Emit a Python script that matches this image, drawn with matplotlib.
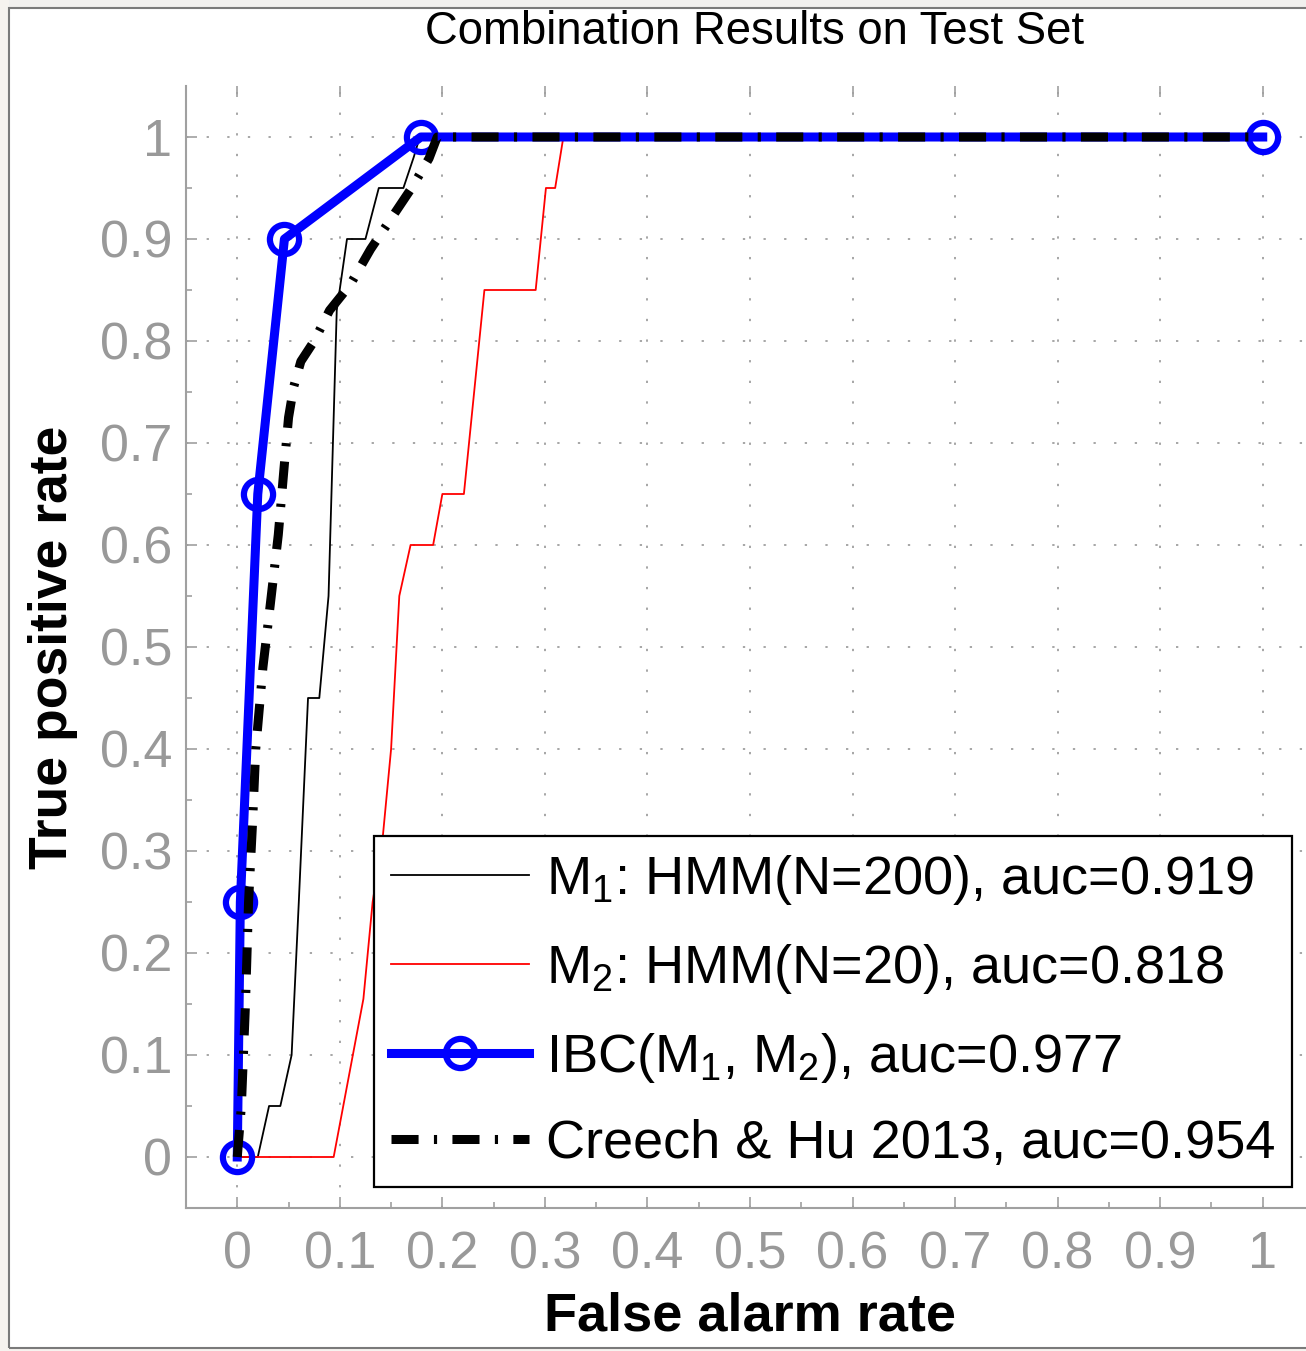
import matplotlib
matplotlib.use("Agg")
import matplotlib.pyplot as plt
from matplotlib.patches import Rectangle
from matplotlib.lines import Line2D

plt.rcParams['font.family'] = ['Liberation Sans', 'DejaVu Sans']
plt.rcParams['mathtext.fontset'] = 'custom'
plt.rcParams['mathtext.rm'] = 'Liberation Sans'
plt.rcParams['mathtext.it'] = 'Liberation Sans:italic'
plt.rcParams['mathtext.bf'] = 'Liberation Sans:bold'
plt.rcParams['mathtext.default'] = 'regular'

# ROC curves: false alarm rate (x) vs true positive rate (y)
m1_fpr = [0.0, 0.020, 0.031, 0.042, 0.053, 0.060, 0.069, 0.080, 0.089, 0.097,
          0.107, 0.125, 0.138, 0.162, 0.172, 0.178, 1.0]
m1_tpr = [0.0, 0.0, 0.05, 0.05, 0.10, 0.25, 0.45, 0.45, 0.55, 0.83,
          0.90, 0.90, 0.95, 0.95, 0.98, 1.0, 1.0]

m2_fpr = [0.0, 0.094, 0.123, 0.132, 0.142, 0.150, 0.158, 0.169, 0.191, 0.200,
          0.221, 0.241, 0.291, 0.301, 0.310, 0.318, 1.0]
m2_tpr = [0.0, 0.0, 0.155, 0.25, 0.315, 0.40, 0.55, 0.60, 0.60, 0.65,
          0.65, 0.85, 0.85, 0.95, 0.95, 1.0, 1.0]

ibc_fpr = [0.0, 0.003, 0.020, 0.046, 0.179, 1.0]
ibc_tpr = [0.0, 0.25, 0.65, 0.90, 1.0, 1.0]

creech_fpr = [0.0, 0.004, 0.008, 0.011, 0.015, 0.018, 0.025, 0.032, 0.040, 0.046,
              0.050, 0.055, 0.062, 0.075, 0.090, 0.110, 0.130, 0.150, 0.170, 0.187,
              0.195, 1.0]
creech_tpr = [0.0, 0.05, 0.15, 0.25, 0.33, 0.40, 0.48, 0.54, 0.61, 0.68,
              0.725, 0.755, 0.78, 0.80, 0.83, 0.855, 0.89, 0.92, 0.95, 0.979,
              1.0, 1.0]

labels = ["M$_1$: HMM(N=200), auc=0.919",
          "M$_2$: HMM(N=20), auc=0.818",
          "IBC(M$_1$, M$_2$), auc=0.977",
          "Creech & Hu 2013, auc=0.954"]

tick_values = [0, 0.1, 0.2, 0.3, 0.4, 0.5, 0.6, 0.7, 0.8, 0.9, 1]
tick_labels = ["0", "0.1", "0.2", "0.3", "0.4", "0.5", "0.6", "0.7", "0.8", "0.9", "1"]

W, H = 1306, 1351
fig = plt.figure(figsize=(W / 100, H / 100), dpi=100)
fig.patch.set_facecolor('white')

# window-like frame around the figure
fig.add_artist(Rectangle((0, 1 - 8 / H), 1, 8 / H, transform=fig.transFigure,
                         facecolor='#f1f0ee', edgecolor='none', zorder=0))
fig.add_artist(Rectangle((0, 0), 9 / W, 1, transform=fig.transFigure,
                         facecolor='#f6f3ef', edgecolor='none', zorder=0))
fig.add_artist(Rectangle((0, 0), 1, 3 / H, transform=fig.transFigure,
                         facecolor='#f6f3ef', edgecolor='none', zorder=0))
fig.add_artist(Rectangle((9 / W, 3 / H), 1.0, 1 - 11 / H, transform=fig.transFigure,
                         facecolor='none', edgecolor='#7a7a7a', linewidth=1.5, zorder=1))

ax_left, ax_bottom = 186 / W, (H - 1208) / H
ax_w, ax_h = 1128 / W, 1122 / H
ax = fig.add_axes([ax_left, ax_bottom, ax_w, ax_h])
ax.set_xlim(-0.05, 1.05)
ax.set_ylim(-0.05, 1.05)

grid_kw = dict(color='#8e8e8e', linewidth=1.1, linestyle=(0, (1.5, 12)))
ax.grid(True, which='major', **grid_kw)
ax.set_axisbelow(True)

creech_style = (0, (3.0, 1.7, 0.35, 1.7))

ax.plot(m1_fpr, m1_tpr, color='black', linewidth=1.3, zorder=3)
ax.plot(m2_fpr, m2_tpr, color='red', linewidth=1.3, zorder=3)
ax.plot(ibc_fpr, ibc_tpr, color='#0000ff', linewidth=6.5, marker='o',
        markersize=21, markerfacecolor='none', markeredgewidth=4.5,
        markeredgecolor='#0000ff', zorder=4, clip_on=False)
ax.plot(creech_fpr, creech_tpr, color='black', linewidth=6.5,
        linestyle=creech_style, zorder=5)

# axes styling
spine_color = '#a0a0a0'
for side in ['top', 'right']:
    ax.spines[side].set_visible(False)
for side in ['left', 'bottom']:
    ax.spines[side].set_color(spine_color)
    ax.spines[side].set_linewidth(1.5)

ax.set_xticks(tick_values)
ax.set_xticklabels(tick_labels)
ax.set_yticks(tick_values)
ax.set_yticklabels(tick_labels)
ax.set_xticks([v + 0.05 for v in tick_values[:-1]], minor=True)
ax.set_yticks([v + 0.05 for v in tick_values[:-1]], minor=True)
ax.tick_params(which='both', direction='in', color=spine_color, width=1.2,
               labelcolor='#999999', labelsize=37.5)
ax.tick_params(which='major', length=8, top=True)
ax.tick_params(which='minor', length=4, top=False)
ax.tick_params(axis='x', which='major', pad=16)
ax.tick_params(axis='y', which='major', pad=10)

ax.set_title("Combination Results on Test Set", fontsize=32.8, x=0.504, y=1.0375, pad=0)
ax.set_xlabel("False alarm rate", fontsize=39, fontweight='bold')
ax.set_ylabel("True positive rate", fontsize=38.5, fontweight='bold')
ax.xaxis.set_label_coords(0.5, -0.0745)
ax.yaxis.set_label_coords(-0.096, 0.5)

handles = [
    Line2D([], [], color='black', linewidth=1.3),
    Line2D([], [], color='red', linewidth=1.3),
    Line2D([], [], color='#0000ff', linewidth=6.5, marker='o', markersize=21,
           markerfacecolor='none', markeredgewidth=4.5),
    Line2D([], [], color='black', linewidth=6.5, linestyle=creech_style),
]
leg = ax.legend(handles, labels, loc='lower right',
                bbox_to_anchor=(1.029, -0.029), bbox_transform=ax.transData,
                borderaxespad=0, fontsize=39, frameon=True, fancybox=False,
                edgecolor='black', framealpha=1, handlelength=2.55,
                handletextpad=0.3, labelspacing=0.64, borderpad=0.32)
leg.get_frame().set_linewidth(1.6)
leg.set_zorder(10)

fig.savefig("out.png", dpi=100, facecolor=fig.get_facecolor())
